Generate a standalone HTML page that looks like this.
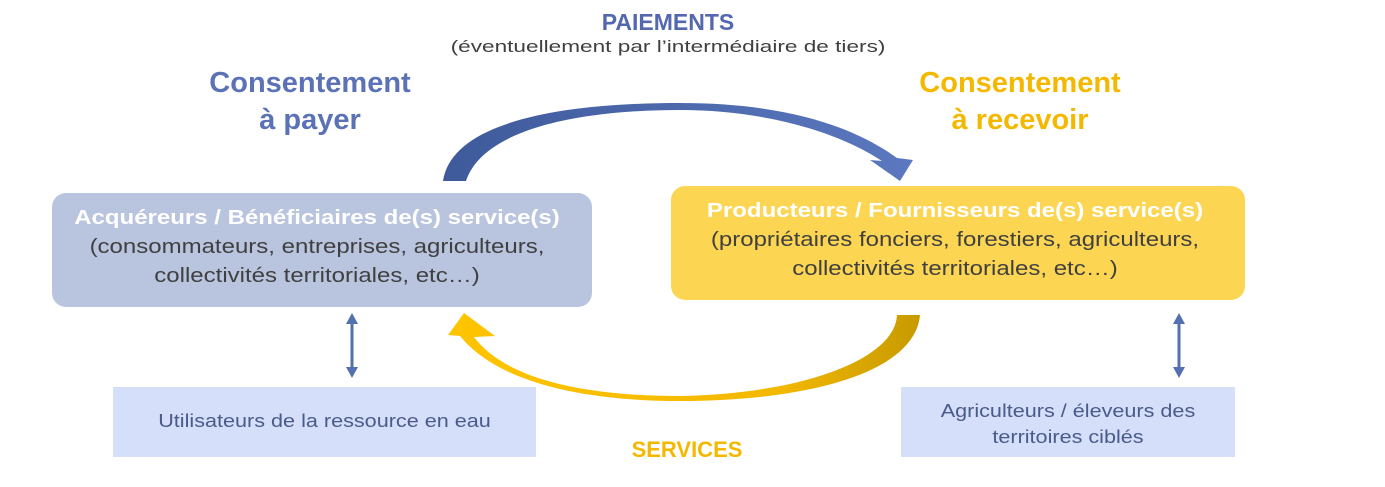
<!DOCTYPE html>
<html><head><meta charset="utf-8"><style>
body{margin:0;width:1385px;height:487px;background:#fff;position:relative;overflow:hidden;font-family:"Liberation Sans",Arial,sans-serif}
.t{position:absolute;text-align:center;white-space:nowrap}
.box{position:absolute;border-radius:14px}
</style></head><body>
<svg width="1385" height="487" style="position:absolute;left:0;top:0">
<defs>
<linearGradient id="g1" x1="0" x2="1"><stop offset="0" stop-color="#3f5a9a"/><stop offset="1" stop-color="#5b78c0"/></linearGradient>
<linearGradient id="g2" x1="0" x2="1"><stop offset="0" stop-color="#ffc400"/><stop offset="0.7" stop-color="#f3b800"/><stop offset="1" stop-color="#c79a00"/></linearGradient>
</defs>
<path d="M443,181 C452,122 560,103 680,103 C780,103 850,124 897,158 L913,160 L900,181 L870,160 L882,161 C835,130 760,110 680,110 C570,110 482,132 466,181 Z" fill="url(#g1)"/>
<path d="M897,315 C895,360 800,394 680,396 C580,396 505,378 474,337 L495,336 L464,313 L448,335 L460,336 C500,385 590,401 680,401 C810,401 915,372 920,315 Z" fill="url(#g2)"/>
<g stroke="#5470b0" stroke-width="3" fill="#5470b0">
<line x1="352" y1="322" x2="352" y2="369"/><polygon points="346,324 358,324 352,313" stroke="none"/><polygon points="346,367 358,367 352,378" stroke="none"/>
<line x1="1179" y1="322" x2="1179" y2="369"/><polygon points="1173,324 1185,324 1179,313" stroke="none"/><polygon points="1173,367 1185,367 1179,378" stroke="none"/>
</g>
</svg>
<div class="t" style="left:568px;width:200px;top:9px;font-size:23px;font-weight:bold;color:#5468b0">PAIEMENTS</div>
<div class="t" style="left:418px;width:500px;top:37px;font-size:17px;color:#404040;transform:scaleX(1.33)">(éventuellement par l’intermédiaire de tiers)</div>
<div class="t" style="left:160px;width:300px;top:65px;font-size:29px;font-weight:bold;color:#5b72b6;line-height:37px">Consentement<br>à payer</div>
<div class="t" style="left:870px;width:300px;top:65px;font-size:29px;font-weight:bold;color:#f5b800;line-height:37px">Consentement<br>à recevoir</div>
<div class="box" style="left:52px;top:193px;width:540px;height:114px;background:#b9c4de"></div>
<div class="t" style="left:52px;width:530px;top:204px;font-size:20px;line-height:29px;color:#404040;transform:scaleX(1.2)"><b style="color:#fff">Acquéreurs / Bénéficiaires de(s) service(s)</b><br>(consommateurs, entreprises, agriculteurs,<br>collectivités territoriales, etc…)</div>
<div class="box" style="left:671px;top:186px;width:574px;height:114px;background:#fcd652"></div>
<div class="t" style="left:668px;width:574px;top:197px;font-size:20px;line-height:29px;color:#404040;transform:scaleX(1.2)"><b style="color:#fff">Producteurs / Fournisseurs de(s) service(s)</b><br>(propriétaires fonciers, forestiers, agriculteurs,<br>collectivités territoriales, etc…)</div>
<div style="position:absolute;left:113px;top:387px;width:423px;height:70px;background:#d5dffa"></div>
<div class="t" style="left:113px;width:423px;top:411px;font-size:18px;color:#4a5a8a;transform:scaleX(1.2)">Utilisateurs de la ressource en eau</div>
<div style="position:absolute;left:901px;top:387px;width:334px;height:70px;background:#d5dffa"></div>
<div class="t" style="left:901px;width:334px;top:398px;font-size:18px;line-height:26px;color:#4a5a8a;transform:scaleX(1.2)">Agriculteurs / éleveurs des<br>territoires ciblés</div>
<div class="t" style="left:587px;width:200px;top:437px;font-size:22px;font-weight:bold;color:#f5b800">SERVICES</div>
</body></html>
